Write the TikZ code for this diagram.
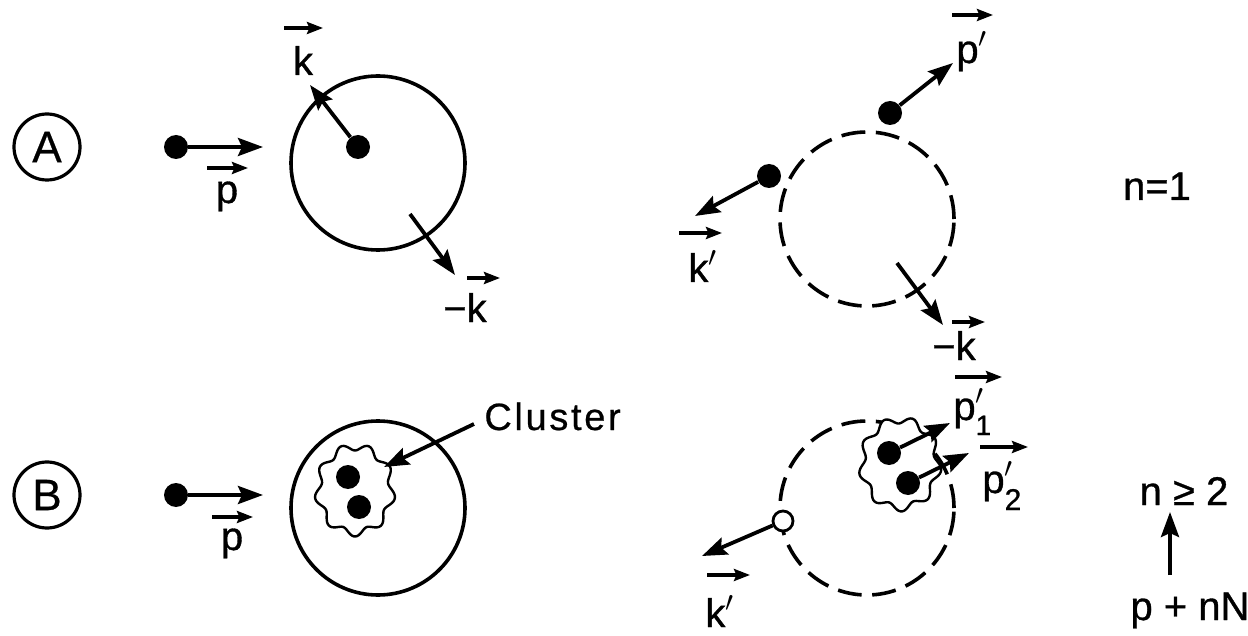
\documentclass[tikz,border=0pt]{standalone}
\usepackage{fontspec}
\setmainfont{Liberation Sans}
\usetikzlibrary{arrows.meta}
\begin{document}
\begin{tikzpicture}[x=0.5pt,y=-0.5pt,
  bigarr/.style={line width=1.9pt,-{Stealth[length=12.5pt,width=9pt,inset=2pt]}},
  vecarr/.style={line width=1.6pt,-{Stealth[length=8pt,width=6pt,inset=1.2pt]}},
  dot/.style={circle,fill=black,inner sep=0pt,minimum size=12pt},
  odot/.style={circle,draw=black,fill=white,line width=1.4pt,inner sep=0pt,minimum size=10pt},
  ring/.style={circle,draw,line width=1.8pt,inner sep=0pt,minimum size=87pt},
  dring/.style={ring,dash pattern=on 12pt off 5.3pt},
  lab/.style={inner sep=0pt,anchor=base,font=\fontsize{20}{24}\selectfont\addfontfeature{FakeBold=0.8}},
  tag/.style={circle,draw,line width=1.6pt,inner sep=0pt,minimum size=33pt,font=\fontsize{22}{26}\selectfont\addfontfeature{FakeBold=0.6}},
  blob/.style={line width=1.2pt,fill=white}
]
\useasboundingbox (0,0) rectangle (1248,636);

% ---------------- Row A, left ----------------
\node[tag] (tA) at (47,147) {A};
\node[ring] (cA) at (378,163) {};
\node[dot] (dA1) at (176,147) {};
\coordinate (eA1) at (263,147);
\draw[bigarr] (dA1) -- (eA1);
\node[dot] (dA2) at (358,147) {};
\coordinate (eA2) at (310,85);
\draw[bigarr] (dA2) -- (eA2);
\coordinate (sA3) at (410,214);
\coordinate (eA3) at (455,275);
\draw[bigarr] (sA3) -- (eA3);
\node[lab] (lpA) at (227,203) {p};
\draw[vecarr] (207,168) -- (248,168);
\node[lab] (lkA) at (303,75) {k};
\draw[vecarr] (284,28) -- (323,28);
\node[lab] (lmkA) at (465,322) {−k};
\draw[vecarr] (467,278) -- (500,278);

% ---------------- Row A, right ----------------
\node[dring] (cAR) at (867,219) {};
\node[dot] (dR1) at (890,113) {};
\coordinate (eR1) at (953,63);
\draw[bigarr] (dR1) -- (eR1);
\node[dot] (dR2) at (769,176) {};
\coordinate (eR2) at (695,216);
\draw[bigarr] (dR2) -- (eR2);
\coordinate (sR3) at (897,263);
\coordinate (eR3) at (943,325);
\draw[bigarr] (sR3) -- (eR3);
\node[lab,anchor=base west] (lpR) at (956,63) {p$'$};
\draw[vecarr] (952,15) -- (993,15);
\node[lab,anchor=base west] (lkR) at (688,282) {k$'$};
\draw[vecarr] (679,233) -- (722,233);
\node[lab] (lmkR) at (954,360) {−k};
\draw[vecarr] (952,322) -- (985,322);
\node[lab] (n1) at (1157,200) {n=1};

% ---------------- Row B, left ----------------
\node[tag] (tB) at (47,495) {B};
\node[ring] (cB) at (378,508) {};
\node[dot] (dB1) at (176,495) {};
\coordinate (eB1) at (263,495);
\draw[bigarr] (dB1) -- (eB1);
\node[lab] (lpB) at (232,550) {p};
\draw[vecarr] (212,517) -- (253,517);
\draw[blob] plot[domain=0:360,samples=150] ({355+(37+3.5*sin(9*\x))*cos(\x)},{490+(43+3.5*sin(9*\x))*sin(\x)}) -- cycle;
\node[dot] (dB2) at (348,477) {};
\node[dot] (dB3) at (359,507) {};
\node[lab,anchor=base west,font=\fontsize{19}{22}\selectfont\addfontfeature{LetterSpace=7,FakeBold=0.6}] (clu) at (484,430) {Cluster};
\coordinate (eClu) at (384,467);
\draw[bigarr] ([shift={(-5pt,3pt)}]clu.base west) -- (eClu);

% ---------------- Row B, right ----------------
\node[dring] (cBR) at (867,508) {};
\draw[blob] plot[domain=0:360,samples=150] ({900+(38+3.5*sin(9*\x+20))*cos(\x)},{464+(44+3.5*sin(9*\x+20))*sin(\x)}) -- cycle;
\node[dot] (dR4) at (889,453) {};
\node[dot] (dR5) at (908,483) {};
\coordinate (eR4) at (950,423);
\coordinate (eR5) at (969,453);
\draw[bigarr] (dR4) -- (eR4);
\draw[bigarr] (dR5) -- (eR5);
\node[odot] (oR) at (783,521) {};
\coordinate (eR6) at (702,556);
\draw[bigarr] (oR) -- (eR6);
\node[lab,anchor=base west] (lp1) at (953,420) {p\rlap{$'$}\raisebox{-7.5pt}{\fontsize{14}{14}\selectfont\addfontfeature{FakeBold=0.8} 1}};
\draw[vecarr] (955,377) -- (1002,377);
\node[lab,anchor=base west] (lp2) at (982,493) {p\rlap{$'$}\raisebox{-8.5pt}{\fontsize{15}{15}\selectfont\addfontfeature{FakeBold=0.8} 2}};
\draw[vecarr] (980,447) -- (1028,447);
\node[lab,anchor=base west] (lkB) at (705,627) {k$'$};
\draw[vecarr] (707,575) -- (750,575);

% ---------------- right column ----------------
\node[lab] (n2) at (1184,505) {n ≥ 2};
\node[lab] (pnN) at (1190,620) {p + nN};
\draw[bigarr] (1170,575) -- (1170,512);

\end{tikzpicture}
\end{document}
